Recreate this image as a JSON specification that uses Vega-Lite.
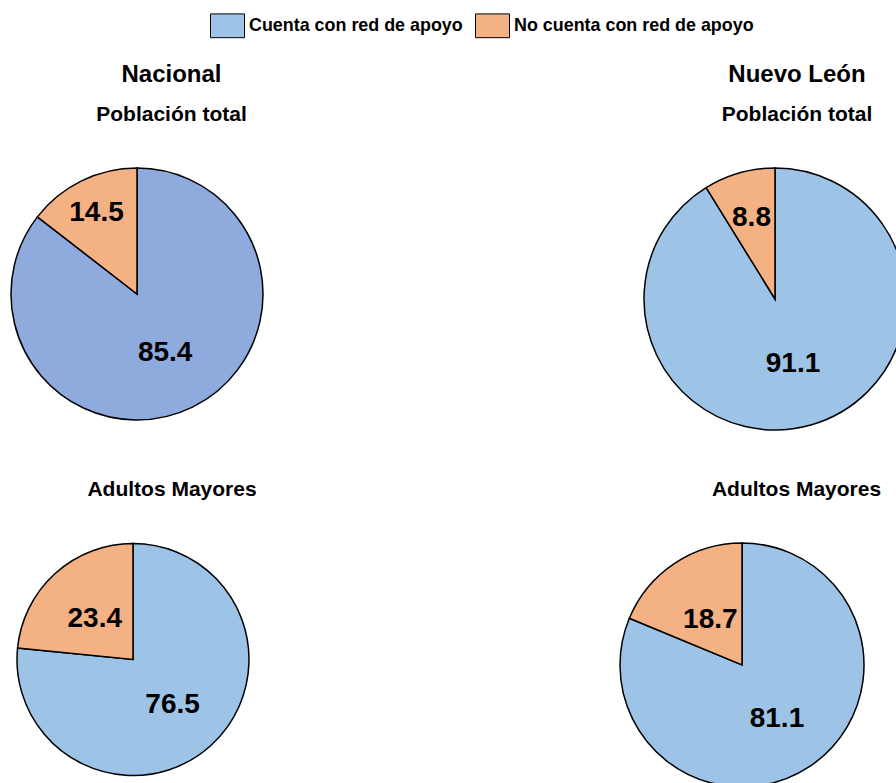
{
  "$schema": "https://vega.github.io/schema/vega-lite/v6.json",
  "padding": {"left": 5, "top": 8, "right": 0, "bottom": 0},
  "background": "white",
  "config": {
    "view": {"stroke": null},
    "font": "Liberation Sans",
    "title": {"font": "Liberation Sans", "fontWeight": "bold", "color": "black", "anchor": "middle", "subtitleFont": "Liberation Sans", "subtitleFontWeight": "bold", "subtitleColor": "black"},
    "text": {"font": "Liberation Sans"}
  },
  "bounds": "flush",
  "columns": 2,
  "spacing": {"row": 57, "column": 375},
  "resolve": {"scale": {"color": "shared", "theta": "independent"}, "legend": {"color": "shared"}},
  "concat": [
    {
      "width": 264, "height": 308,
      "title": {"text": "Nacional", "subtitle": "Población total", "dx": 34.5, "fontSize": 24, "subtitleFontSize": 21, "offset": 15, "subtitlePadding": 17},
      "data": {"values": [
        {"categoria": "Cuenta con red de apoyo", "valor": 85.4},
        {"categoria": "No cuenta con red de apoyo", "valor": 14.5}
      ]},
      "encoding": {
        "theta": {"field": "valor", "type": "quantitative", "stack": true},
        "order": {"field": "categoria", "type": "ordinal", "sort": "ascending"},
        "color": {"field": "categoria", "type": "nominal",
          "scale": {"domain": ["Cuenta con red de apoyo", "No cuenta con red de apoyo"], "range": ["#9DC3E6", "#F4B183"]},
          "legend": {"orient": "none", "legendX": 205, "legendY": -132, "direction": "horizontal", "title": null, "symbolType": "M-1,-0.7H1V0.7H-1Z", "symbolSize": 1156, "symbolStrokeColor": "black", "symbolStrokeWidth": 1, "symbolOpacity": 1, "labelFont": "Liberation Sans", "labelFontSize": 17.9, "labelFontWeight": "bold", "labelColor": "black", "labelOffset": 4, "columnPadding": 10, "labelLimit": 400}}
      },
      "layer": [
        {"mark": {"type": "arc", "outerRadius": 126, "stroke": "black", "strokeWidth": 1.5},
         "encoding": {"color": {"condition": {"test": "datum.categoria === 'Cuenta con red de apoyo'", "value": "#8FAADC"}, "field": "categoria", "type": "nominal"}}},
        {"mark": {"type": "text", "fontSize": 28, "fontWeight": "bold", "align": "center", "baseline": "middle", "dy": 2},
         "encoding": {"text": {"field": "valor", "type": "quantitative", "format": ".1f"}, "detail": {"field": "categoria"}, "color": {"value": "black"},
           "radius": {"value": {"expr": "datum.categoria === 'No cuenta con red de apoyo' ? 92 : 64"}}}}
      ]
    },
    {
      "width": 262, "height": 318,
      "title": {"text": "Nuevo León", "subtitle": "Población total", "dx": 22, "fontSize": 24, "subtitleFontSize": 21, "offset": 15, "subtitlePadding": 17},
      "data": {"values": [
        {"categoria": "Cuenta con red de apoyo", "valor": 91.1},
        {"categoria": "No cuenta con red de apoyo", "valor": 8.8}
      ]},
      "encoding": {
        "theta": {"field": "valor", "type": "quantitative", "stack": true},
        "order": {"field": "categoria", "type": "ordinal", "sort": "ascending"},
        "color": {"field": "categoria", "type": "nominal",
          "scale": {"domain": ["Cuenta con red de apoyo", "No cuenta con red de apoyo"], "range": ["#9DC3E6", "#F4B183"]}}
      },
      "layer": [
        {"mark": {"type": "arc", "outerRadius": 131, "stroke": "black", "strokeWidth": 1.5}},
        {"mark": {"type": "text", "fontSize": 28, "fontWeight": "bold", "align": "center", "baseline": "middle", "dy": 2},
         "encoding": {"text": {"field": "valor", "type": "quantitative", "format": ".1f"}, "detail": {"field": "categoria"}, "color": {"value": "black"},
           "radius": {"value": {"expr": "datum.categoria === 'No cuenta con red de apoyo' ? 86 : 66"}}}}
      ]
    },
    {
      "width": 256, "height": 289,
      "title": {"text": "Adultos Mayores", "dx": 39, "fontSize": 21, "offset": 15},
      "data": {"values": [
        {"categoria": "Cuenta con red de apoyo", "valor": 76.5},
        {"categoria": "No cuenta con red de apoyo", "valor": 23.4}
      ]},
      "encoding": {
        "theta": {"field": "valor", "type": "quantitative", "stack": true},
        "order": {"field": "categoria", "type": "ordinal", "sort": "ascending"},
        "color": {"field": "categoria", "type": "nominal",
          "scale": {"domain": ["Cuenta con red de apoyo", "No cuenta con red de apoyo"], "range": ["#9DC3E6", "#F4B183"]}}
      },
      "layer": [
        {"mark": {"type": "arc", "outerRadius": 116, "stroke": "black", "strokeWidth": 1.5}},
        {"mark": {"type": "text", "fontSize": 28, "fontWeight": "bold", "align": "center", "baseline": "middle", "dy": 2},
         "encoding": {"text": {"field": "valor", "type": "quantitative", "format": ".1f"}, "detail": {"field": "categoria"}, "color": {"value": "black"},
           "radius": {"value": {"expr": "datum.categoria === 'No cuenta con red de apoyo' ? 57 : 59"}}}}
      ]
    },
    {
      "width": 196, "height": 300,
      "title": {"text": "Adultos Mayores", "dx": 54.5, "fontSize": 21, "offset": 15},
      "data": {"values": [
        {"categoria": "Cuenta con red de apoyo", "valor": 81.1},
        {"categoria": "No cuenta con red de apoyo", "valor": 18.7}
      ]},
      "encoding": {
        "theta": {"field": "valor", "type": "quantitative", "stack": true},
        "order": {"field": "categoria", "type": "ordinal", "sort": "ascending"},
        "color": {"field": "categoria", "type": "nominal",
          "scale": {"domain": ["Cuenta con red de apoyo", "No cuenta con red de apoyo"], "range": ["#9DC3E6", "#F4B183"]}}
      },
      "layer": [
        {"mark": {"type": "arc", "outerRadius": 122, "stroke": "black", "strokeWidth": 1.5}},
        {"mark": {"type": "text", "fontSize": 28, "fontWeight": "bold", "align": "center", "baseline": "middle", "dy": 2},
         "encoding": {"text": {"field": "valor", "type": "quantitative", "format": ".1f"}, "detail": {"field": "categoria"}, "color": {"value": "black"},
           "radius": {"value": {"expr": "datum.categoria === 'No cuenta con red de apoyo' ? 57 : 63"}}}}
      ]
    }
  ]
}
